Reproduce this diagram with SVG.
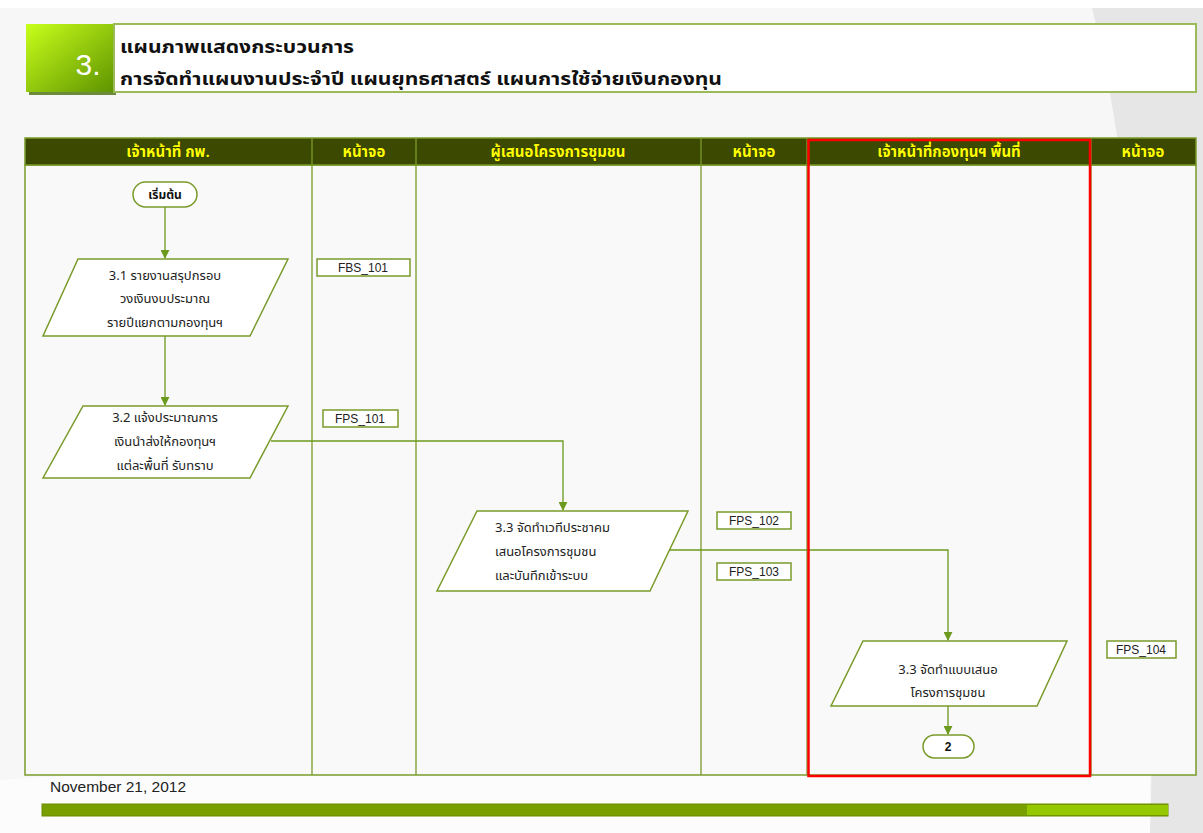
<svg xmlns="http://www.w3.org/2000/svg" width="1203" height="833" viewBox="0 0 1203 833">
<defs>
<linearGradient id="sq" x1="0" y1="0" x2="1" y2="1"><stop offset="0" stop-color="#c8ff1a"/><stop offset="1" stop-color="#5f9400"/></linearGradient>
<marker id="ar" viewBox="0 0 10 10" refX="9" refY="5" markerWidth="9" markerHeight="9" markerUnits="userSpaceOnUse" orient="auto"><path d="M0,0 L10,5 L0,10 z" fill="#6b9a1e"/></marker>
<style>
.th{font-family:"Noto Sans Thai","Tahoma","DejaVu Sans","Liberation Sans",sans-serif}
.hd{fill:#ffff00;font-size:15px;font-weight:bold;text-anchor:middle;stroke:#1a2200;stroke-width:0.6;paint-order:stroke}
.sh{fill:#ffffff;stroke:#7a9a2a;stroke-width:1.5}
.tx{fill:#222;font-size:13px;text-anchor:middle}
.txl{fill:#222;font-size:13px;text-anchor:start}
.lb{fill:#ffffff;stroke:#7a9a2a;stroke-width:1.5}
.lt{font-family:"Liberation Sans",Arial,sans-serif;font-size:12px;fill:#222;text-anchor:middle}
.cn{fill:none;stroke:#6b9a1e;stroke-width:1.3}
.col{stroke:#7a9a2a;stroke-width:1.3}
</style>
</defs>
<rect width="1203" height="833" fill="#f7f7f7"/>
<path d="M1090,0 C1140,200 1160,500 1150,833 L1203,833 L1203,0 Z" fill="#e6e6e6"/>
<path d="M0,780 C300,760 700,730 1150,700 L1150,833 L0,833 Z" fill="#fcfcfc"/>
<rect x="0" y="0" width="1203" height="8" fill="#ffffff"/>

<g id="title">
<rect x="29" y="27" width="87" height="68" fill="#6b8a3a"/>
<rect x="26" y="24" width="87" height="68" fill="url(#sq)"/>
<text x="88" y="75" font-family="Liberation Sans,Arial,sans-serif" font-size="30" fill="#ffffff" text-anchor="middle">3.</text>
<rect x="114" y="24" width="1082" height="68" fill="#ffffff" stroke="#9bbb59" stroke-width="2"/>
<text class="th" x="120" y="53" font-size="18" font-weight="bold" fill="#111" textLength="234" lengthAdjust="spacingAndGlyphs">แผนภาพแสดงกระบวนการ</text>
<text class="th" x="120" y="85" font-size="18" font-weight="bold" fill="#111" textLength="602" lengthAdjust="spacingAndGlyphs">การจัดทำแผนงานประจำปี แผนยุทธศาสตร์ แผนการใช้จ่ายเงินกองทุน</text>
</g>

<g id="table">
<rect x="25" y="165" width="1171" height="610" fill="#f9f9f9" stroke="#7a9a2a" stroke-width="1.5"/>
<rect x="25" y="138" width="1171" height="27" fill="#3b4a00" stroke="#7a9a2a" stroke-width="1.5"/>
<line class="col" x1="312" y1="138" x2="312" y2="775"/>
<line class="col" x1="416" y1="138" x2="416" y2="775"/>
<line class="col" x1="701" y1="138" x2="701" y2="775"/>
<line class="col" x1="807" y1="138" x2="807" y2="775"/>
<line class="col" x1="1091" y1="138" x2="1091" y2="775"/>
<text class="th hd" x="168" y="157">เจ้าหน้าที่ กพ.</text>
<text class="th hd" x="364" y="157">หน้าจอ</text>
<text class="th hd" x="558" y="157">ผู้เสนอโครงการชุมชน</text>
<text class="th hd" x="754" y="157">หน้าจอ</text>
<text class="th hd" x="949" y="157">เจ้าหน้าที่กองทุนฯ พื้นที่</text>
<text class="th hd" x="1143" y="157">หน้าจอ</text>
</g>

<g id="connectors">
<line class="cn" x1="165" y1="207" x2="165" y2="258" marker-end="url(#ar)"/>
<line class="cn" x1="165" y1="336" x2="165" y2="405" marker-end="url(#ar)"/>
<polyline class="cn" points="271,441 563,441 563,510" marker-end="url(#ar)"/>
<polyline class="cn" points="668,550 948,550 948,640" marker-end="url(#ar)"/>
<line class="cn" x1="948" y1="706" x2="948" y2="734" marker-end="url(#ar)"/>
</g>

<g id="start">
<rect x="133" y="182" width="64" height="25" rx="12.5" class="sh"/>
<text class="th" x="165" y="199" font-size="12" font-weight="bold" fill="#111" text-anchor="middle">เริ่มต้น</text>
</g>

<g id="n31">
<polygon class="sh" points="78,259 288,259 250,336 43,336"/>
<text class="th tx" x="165" y="280">3.1 รายงานสรุปกรอบ</text>
<text class="th tx" x="165" y="303">วงเงินงบประมาณ</text>
<text class="th tx" x="165" y="327">รายปีแยกตามกองทุนฯ</text>
</g>

<g id="n32">
<polygon class="sh" points="83,406 288,406 250,478 43,478"/>
<text class="th tx" x="165" y="422">3.2 แจ้งประมาณการ</text>
<text class="th tx" x="165" y="446">เงินนำส่งให้กองทุนฯ</text>
<text class="th tx" x="165" y="470">แต่ละพื้นที่ รับทราบ</text>
</g>

<g id="n33a">
<polygon class="sh" points="477,511 688,511 650,591 437,591"/>
<text class="th txl" x="495" y="532">3.3 จัดทำเวทีประชาคม</text>
<text class="th txl" x="495" y="556">เสนอโครงการชุมชน</text>
<text class="th txl" x="495" y="580">และบันทึกเข้าระบบ</text>
</g>

<g id="n33b">
<polygon class="sh" points="863,641 1067,641 1037,706 831,706"/>
<text class="th tx" x="948" y="674">3.3 จัดทำแบบเสนอ</text>
<text class="th tx" x="948" y="697">โครงการชุมชน</text>
</g>

<g id="end2">
<rect x="923" y="735" width="51" height="23" rx="11.5" class="sh"/>
<text x="948" y="751" font-family="Liberation Sans,Arial,sans-serif" font-size="12" font-weight="bold" fill="#111" text-anchor="middle">2</text>
</g>

<g id="labels">
<rect class="lb" x="317" y="259" width="93" height="17"/><text class="lt" x="363" y="272">FBS_101</text>
<rect class="lb" x="323" y="410" width="75" height="17"/><text class="lt" x="360" y="423">FPS_101</text>
<rect class="lb" x="717" y="512" width="74" height="17"/><text class="lt" x="754" y="525">FPS_102</text>
<rect class="lb" x="717" y="563" width="74" height="17"/><text class="lt" x="754" y="576">FPS_103</text>
<rect class="lb" x="1107" y="641" width="69" height="17"/><text class="lt" x="1141" y="654">FPS_104</text>
</g>

<rect id="highlight" x="808.5" y="140" width="281.5" height="636" fill="none" stroke="#ff0000" stroke-width="2.5"/>

<g id="footer">
<text x="50" y="792" font-family="Liberation Sans Narrow,Liberation Sans,Arial,sans-serif" font-size="14" fill="#222" textLength="136" lengthAdjust="spacingAndGlyphs">November 21, 2012</text>
<rect x="42" y="804" width="1126" height="12" fill="#789e00" stroke="#6a8c00" stroke-width="1"/>
<rect x="1027" y="805" width="141" height="10" fill="#96c800"/>
</g>
</svg>
